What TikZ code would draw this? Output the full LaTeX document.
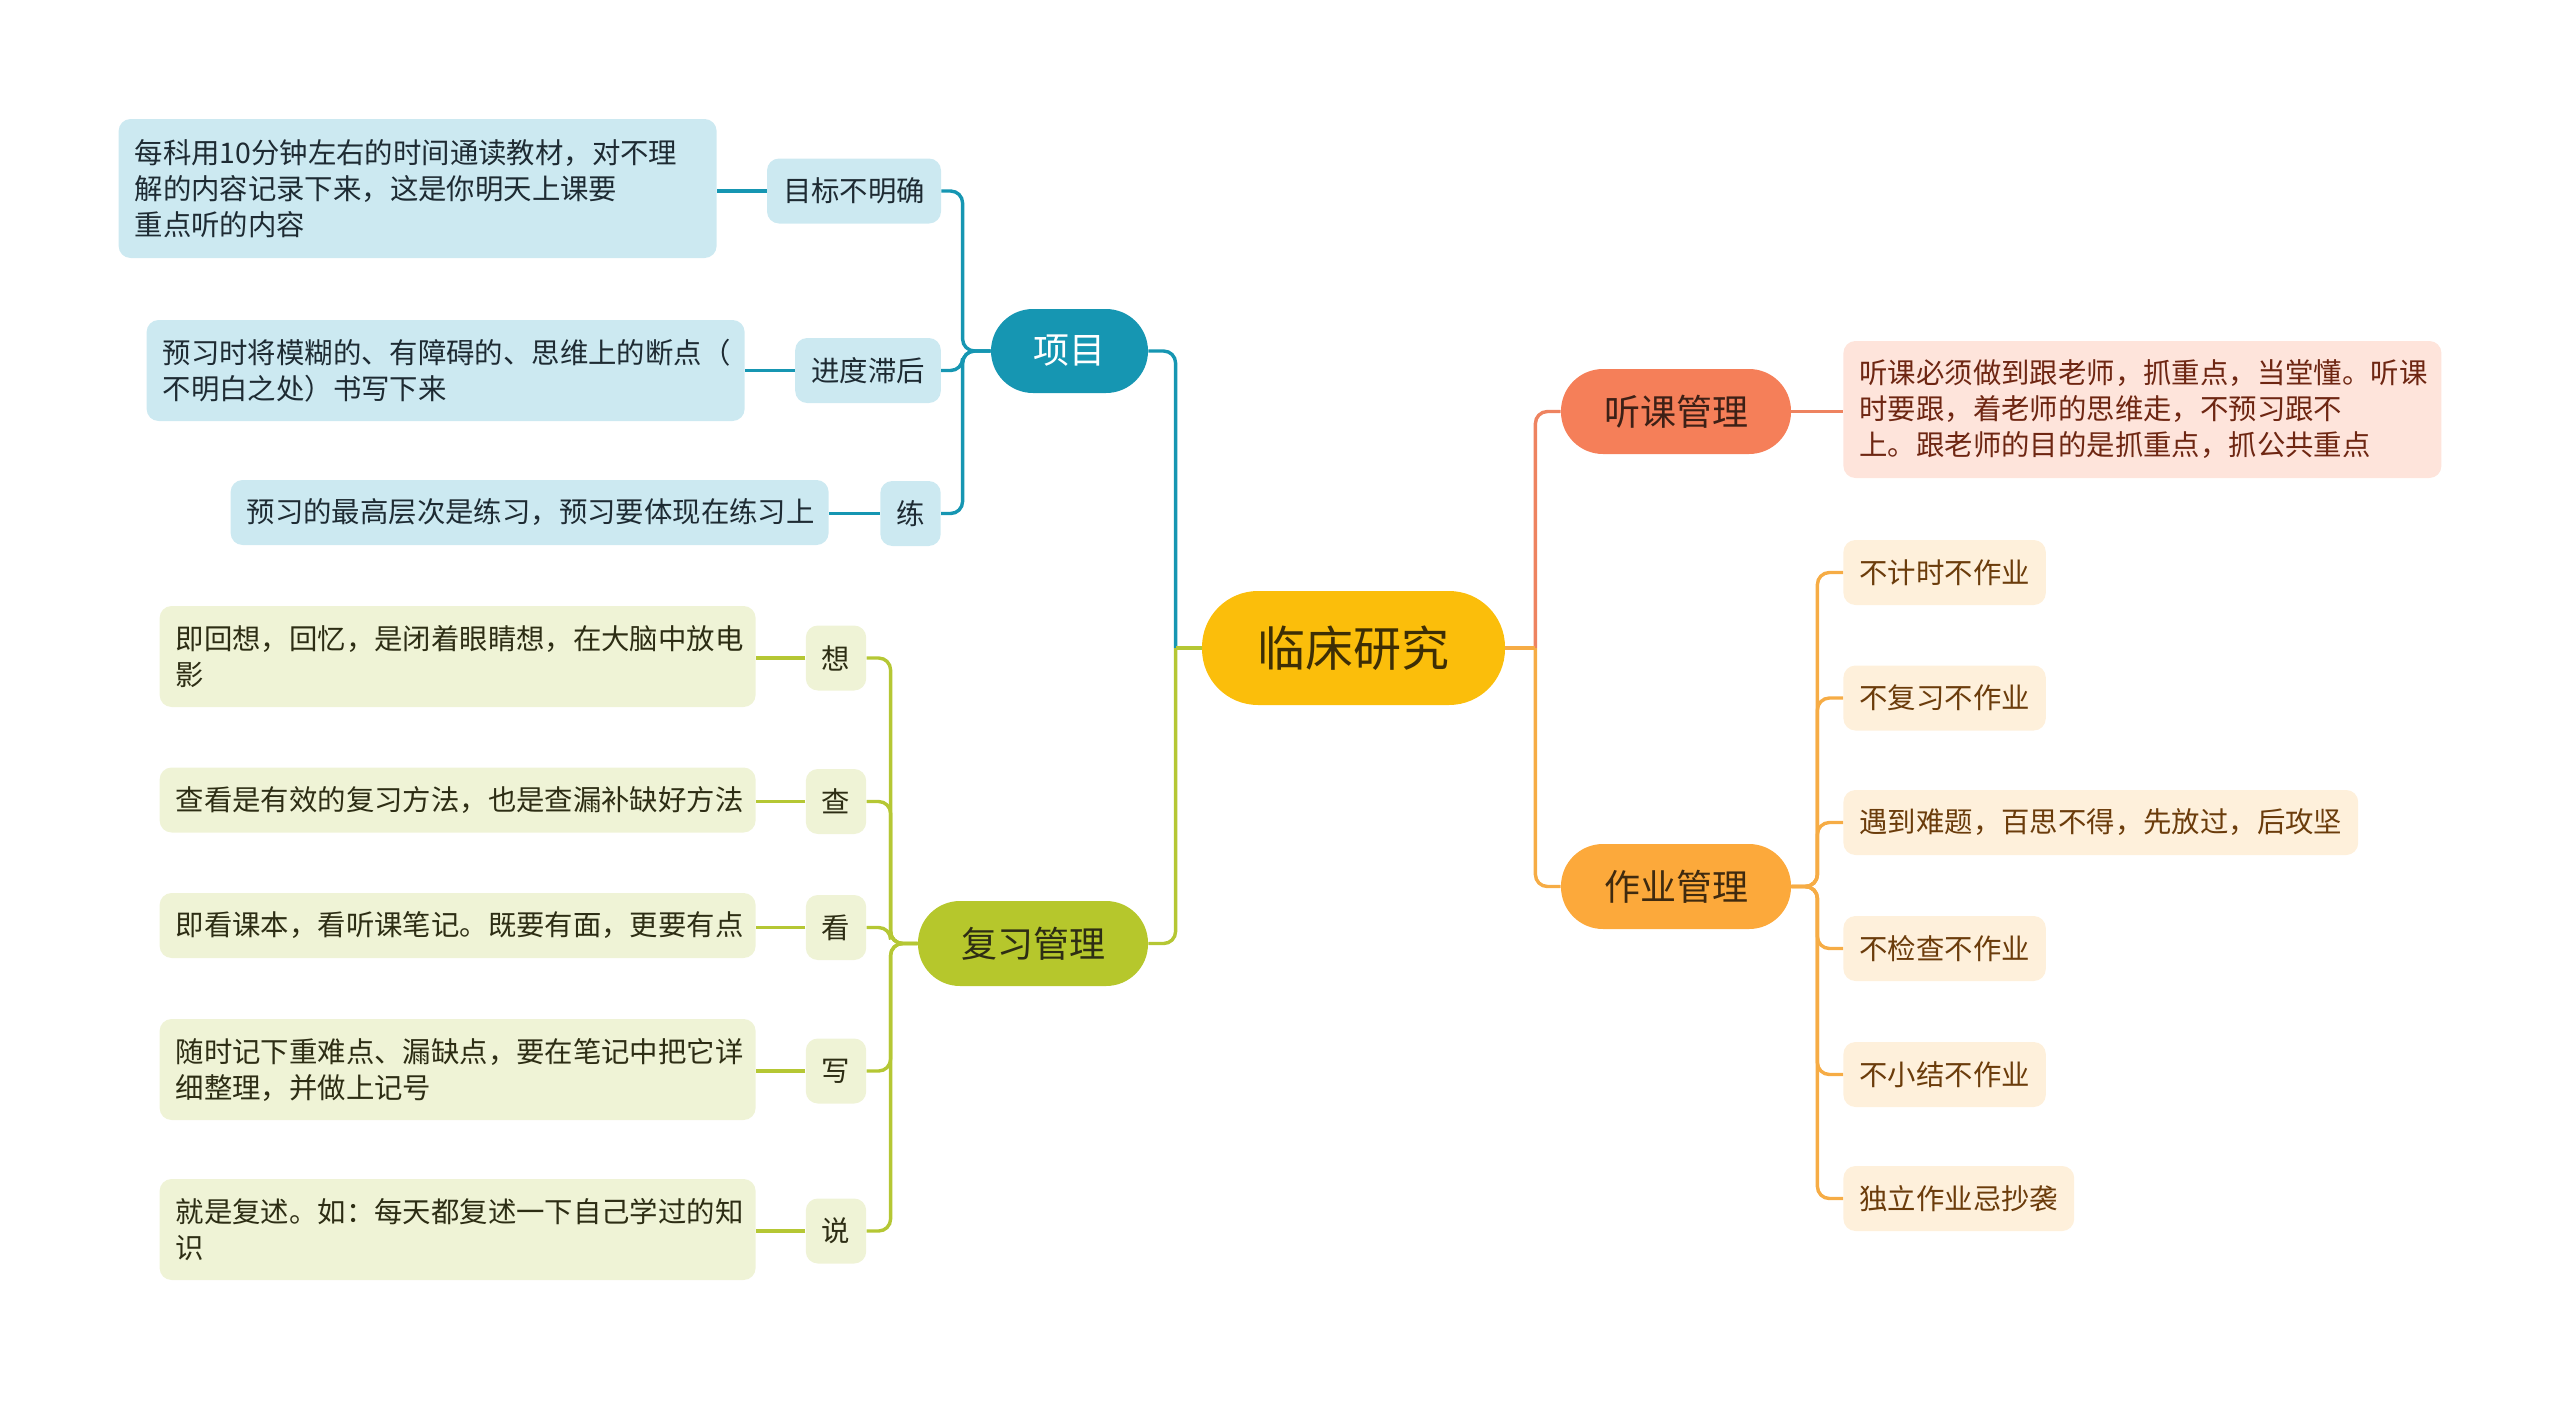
\documentclass[tikz,border=0pt]{standalone}
\usepackage{fontspec}
\setmainfont{Noto Sans CJK SC}
\definecolor{cTeal}{HTML}{1696B2}
\definecolor{cTealL}{HTML}{CCE9F1}
\definecolor{cTealT}{HTML}{1E2B33}
\definecolor{cGreen}{HTML}{B6C72C}
\definecolor{cGreenLn}{HTML}{B5C734}
\definecolor{cGreenL}{HTML}{EFF3D6}
\definecolor{cGreenT}{HTML}{2D2D14}
\definecolor{cRoot}{HTML}{FBBE0B}
\definecolor{cRootT}{HTML}{3D2E05}
\definecolor{cCoral}{HTML}{F57F59}
\definecolor{cCoralLn}{HTML}{EE8360}
\definecolor{cPink}{HTML}{FEE4DB}
\definecolor{cPinkT}{HTML}{6E2612}
\definecolor{cOrange}{HTML}{FCA93B}
\definecolor{cOrangeLn}{HTML}{F6AC45}
\definecolor{cOrangeL}{HTML}{FEF0DB}
\definecolor{cOrangeT}{HTML}{6B3C0B}
\begin{document}
\begin{tikzpicture}[x=0.5pt,y=-0.5pt,
  rootnode/.style={fill=cRoot,text=cRootT,rounded corners=28pt,minimum width=151.5pt,minimum height=57pt,inner sep=0pt,font=\fontsize{24}{28}\selectfont},
  branch/.style={rounded corners=21pt,minimum width=115pt,minimum height=42.5pt,inner sep=0pt,font=\fontsize{18}{22}\selectfont},
  leaf/.style={rounded corners=6pt,inner xsep=8pt,inner ysep=0pt,minimum height=32.5pt,font=\fontsize{14.2}{18}\selectfont},
  tbox/.style={leaf,text width=283pt,align=left},
  conn/.style={line width=1.7pt,rounded corners=6pt}
]
\useasboundingbox (0,0) rectangle (2560,1403);
% root
\node[rootnode] (C) at (1353.5,648) {临床研究};
% branches
\node[branch,fill=cTeal,text=white,minimum width=78.5pt,minimum height=42pt] (P) at (1069.5,351) {项目};
\node[branch,fill=cGreen,text=cGreenT] (R) at (1033,943.5) {复习管理};
\node[branch,fill=cCoral,text=black!75!cCoral] (H) at (1676,411.5) {听课管理};
\node[branch,fill=cOrange,text=black!75!cOrange] (Z) at (1676,886.5) {作业管理};
% teal labels
\tikzset{tl/.style={leaf,fill=cTealL,text=cTealT}}
\node[tl] (L1) at (854,191) {目标不明确};
\node[tl] (L2) at (868,370.5) {进度滞后};
\node[tl] (L3) at (910.5,513.5) {练};
\node[tl,tbox,minimum height=69.5pt,anchor=east] (T1) at (717,188.5) {每科用10分钟左右的时间通读教材，对不理\\解的内容记录下来，这是你明天上课要\\重点听的内容};
\node[tl,tbox,minimum height=50.5pt,anchor=east] (T2) at (745,370.5) {预习时将模糊的、有障碍的、思维上的断点（\\不明白之处）书写下来};
\node[tl,tbox,anchor=east] (T3) at (829,512.5) {预习的最高层次是练习，预习要体现在练习上};
% green labels
\tikzset{gl/.style={leaf,fill=cGreenL,text=cGreenT}}
\node[gl] (G1) at (836,658) {想};
\node[gl] (G2) at (836,801.5) {查};
\node[gl] (G3) at (836,927.5) {看};
\node[gl] (G4) at (836,1071) {写};
\node[gl] (G5) at (836,1231) {说};
\node[gl,tbox,text width=282pt,minimum height=50.5pt,anchor=east] (GT1) at (756,656.5) {即回想，回忆，是闭着眼睛想，在大脑中放电\\影};
\node[gl,tbox,text width=282pt,anchor=east] (GT2) at (756,800) {查看是有效的复习方法，也是查漏补缺好方法};
\node[gl,tbox,text width=282pt,anchor=east] (GT3) at (756,925.5) {即看课本，看听课笔记。既要有面，更要有点};
\node[gl,tbox,text width=282pt,minimum height=50.5pt,anchor=east] (GT4) at (756,1069.5) {随时记下重难点、漏缺点，要在笔记中把它详\\细整理，并做上记号};
\node[gl,tbox,text width=282pt,minimum height=50.5pt,anchor=east] (GT5) at (756,1229.5) {就是复述。如：每天都复述一下自己学过的知\\识};
% pink
\node[leaf,tbox,fill=cPink,text=cPinkT,minimum height=68.5pt,anchor=west] (HT) at (1843,409.5) {听课必须做到跟老师，抓重点，当堂懂。听课\\时要跟，着老师的思维走，不预习跟不\\上。跟老师的目的是抓重点，抓公共重点};
% orange leaves
\tikzset{ol/.style={leaf,fill=cOrangeL,text=cOrangeT,anchor=west}}
\node[ol] (B1) at (1843,572.5) {不计时不作业};
\node[ol] (B2) at (1843,698) {不复习不作业};
\node[ol] (B3) at (1843,822.5) {遇到难题，百思不得，先放过，后攻坚};
\node[ol] (B4) at (1843,948.5) {不检查不作业};
\node[ol] (B5) at (1843,1074.5) {不小结不作业};
\node[ol] (B6) at (1843,1198.5) {独立作业忌抄袭};
% junctions beside the root
\coordinate (jl) at ([xshift=-13pt]C.west);
\coordinate (jr) at ([xshift=15pt]C.east);
% connectors: root to branches
\draw[conn,cTeal] (jl) |- (P.east);
\draw[conn,cGreenLn] (jl) |- (R.east);
\draw[conn,cGreenLn] (C.west) -- (jl);
\draw[conn,cCoralLn] (jr) |- (H.west);
\draw[conn,cOrangeLn] (jr) |- (Z.west);
\draw[conn,cOrangeLn] (C.east) -- (jr);
% teal
\foreach \n in {L1,L2,L3} \draw[conn,cTeal] (P.west) -- ++(-28,0) |- (\n.east);
\draw[conn,cTeal] (L1.west) -- (L1.west -| T1.east);
\draw[conn,cTeal] (L2.west) -- (L2.west -| T2.east);
\draw[conn,cTeal] (L3.west) -- (L3.west -| T3.east);
% green
\foreach \n in {G1,G2,G3,G4,G5} \draw[conn,cGreenLn] (R.west) -- ++(-27,0) |- (\n.east);
\draw[conn,cGreenLn] (G1.west) -- (G1.west -| GT1.east);
\draw[conn,cGreenLn] (G2.west) -- (G2.west -| GT2.east);
\draw[conn,cGreenLn] (G3.west) -- (G3.west -| GT3.east);
\draw[conn,cGreenLn] (G4.west) -- (G4.west -| GT4.east);
\draw[conn,cGreenLn] (G5.west) -- (G5.west -| GT5.east);
% coral
\draw[conn,cCoralLn] (H.east) -- (H.east -| HT.west);
% orange
\foreach \n in {B1,B2,B3,B4,B5,B6} \draw[conn,cOrangeLn] (Z.east) -- ++(26,0) |- (\n.west);
\end{tikzpicture}
\end{document}
